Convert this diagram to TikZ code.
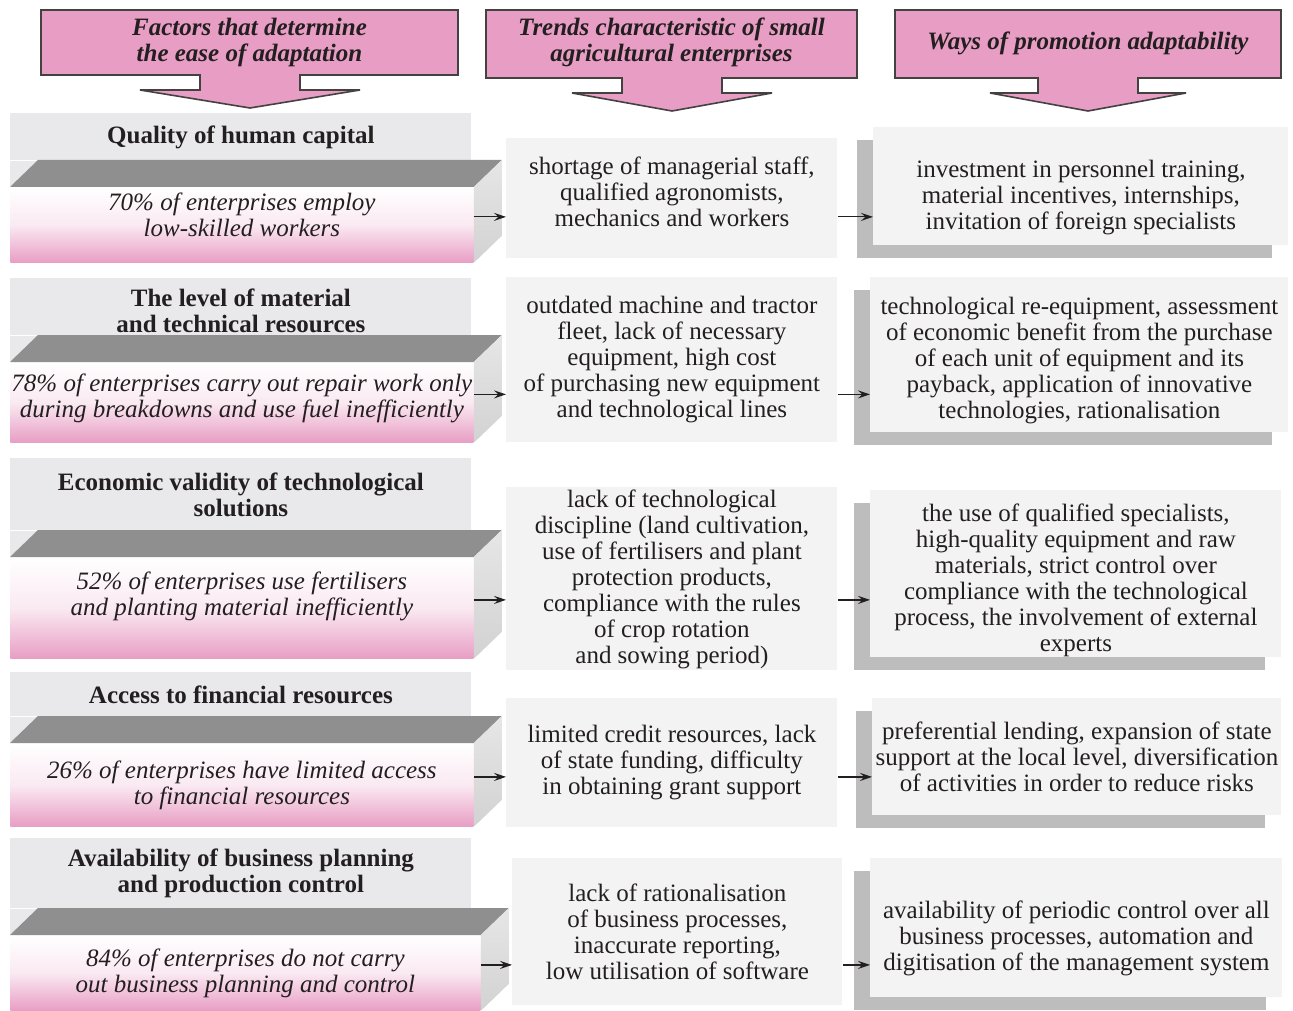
\documentclass[tikz,border=0pt]{standalone}
\usepackage{fontspec}
\setmainfont{Liberation Serif}
\usetikzlibrary{arrows.meta,shadows}

\definecolor{pinkc}{HTML}{E89EC4}
\definecolor{headgray}{HTML}{E9E9EB}
\definecolor{boxgray}{HTML}{F3F3F3}
\definecolor{shadowgray}{HTML}{BDBDBD}
\definecolor{topgray}{HTML}{8F8F8F}
\definecolor{sidegray}{HTML}{D2D2D2}
\definecolor{inkc}{HTML}{231F20}

\tikzset{
  every node/.style={font=\fontsize{12.5}{13}\selectfont, text=inkc},
  headarr/.style={fill=pinkc, draw=inkc!85, line width=0.8pt},
  headtxt/.style={font=\fontsize{12.5}{13}\selectfont\bfseries\itshape, align=center},
  factor/.style={fill=headgray, anchor=north west, inner sep=0pt, align=center,
    font=\fontsize{12.5}{13}\selectfont\bfseries, minimum width=230.5pt},
  front/.style={anchor=north west, inner sep=0pt, align=center,
    font=\fontsize{12.5}{13}\selectfont\itshape,
    top color=white, bottom color=pinkc, middle color=pinkc!22, minimum width=231.5pt},
  trend/.style={fill=boxgray, anchor=north west, inner sep=0pt, align=center, minimum width=165.5pt},
  way/.style={fill=boxgray, anchor=north west, inner sep=0pt, align=center,
    drop shadow={shadow xshift=-8pt, shadow yshift=-6.5pt, fill=shadowgray, opacity=1}},
  arr/.style={-{Stealth[length=6pt,width=4pt,inset=2.2pt]}, line width=0.6pt, draw=inkc},
}

\begin{document}
\begin{tikzpicture}[x=0.5pt, y=-0.5pt]
  \useasboundingbox (0,0) rectangle (1293,1010);

  % column headers
  \foreach \l/\r/\b/\c/\w in {41/458/75/250/110, 486/857/78/672/100, 895/1281/78/1088/98}
    \filldraw[headarr] (\l,10) -- (\r,10) -- (\r,\b) -- (\c+50,\b) -- (\c+50,\b+15) -- (\c+\w,\b+15)
      -- (\c,\b+33) -- (\c-\w,\b+15) -- (\c-50,\b+15) -- (\c-50,\b) -- (\l,\b) -- cycle;
  \node[headtxt] (hd1) at (249.5,42) {Factors that determine\\the ease of adaptation};
  \node[headtxt] (hd2) at (671.5,42) {Trends characteristic of small\\agricultural enterprises};
  \node[headtxt] (hd3) at (1088,43) {Ways of promotion adaptability};

  % factors
  \node[factor, minimum height=23.5pt] (h1) at (10,113) {Quality of human capital};
  \node[factor, minimum height=28.5pt, text height=25.5pt] (h2) at (10,278) {The level of material\\and technical resources};
  \node[factor, minimum height=36pt] (h3) at (10,458) {Economic validity of technological\\solutions};
  \node[factor, minimum height=22pt] (h4) at (10,672) {Access to financial resources};
  \node[factor, minimum height=35pt] (h5) at (10,838) {Availability of business planning\\and production control};

  \node[front, minimum height=37.5pt, text depth=10pt] (f1) at (10,187) {70\% of enterprises employ\\low-skilled workers};
  \node[front, minimum height=40pt, text depth=6.5pt] (f2) at (10,362) {78\% of enterprises carry out repair work only\\during breakdowns and use fuel inefficiently};
  \node[front, minimum height=50.5pt, text depth=14pt] (f3) at (10,557) {52\% of enterprises use fertilisers\\and planting material inefficiently};
  \node[front, minimum height=41.5pt] (f4) at (10,743) {26\% of enterprises have limited access\\to financial resources};
  \node[front, minimum height=37.5pt, minimum width=235pt] (f5) at (10,935) {84\% of enterprises do not carry\\out business planning and control};

  % box faces
  \foreach \i in {1,...,5} {
    \fill[headgray] (h\i.south west) rectangle ([xshift=14pt]f\i.north west);
    \fill[topgray] (f\i.north west) -- ++(28,-27) -- ([shift={(28,-27)}]f\i.north east) -- (f\i.north east) -- cycle;
    \shade[top color=sidegray!55, bottom color=sidegray] (f\i.north east) -- ([shift={(28,-27)}]f\i.north east)
      -- ([shift={(28,-27)}]f\i.south east) -- (f\i.south east) -- cycle;
  }

  % trends
  \node[trend, minimum height=60pt, text depth=7pt] (t1) at (506,138) {shortage of managerial staff,\\qualified agronomists,\\mechanics and workers};
  \node[trend, minimum height=82.5pt] (t2) at (506,277) {outdated machine and tractor\\fleet, lack of necessary\\equipment, high cost\\of purchasing new equipment\\and technological lines};
  \node[trend, minimum height=91.5pt] (t3) at (506,487) {lack of technological\\discipline (land cultivation,\\use of fertilisers and plant\\protection products,\\compliance with the rules\\of crop rotation\\and sowing period)};
  \node[trend, minimum height=64.5pt] (t4) at (506,698) {limited credit resources, lack\\of state funding, difficulty\\in obtaining grant support};
  \node[trend, minimum height=73.5pt, minimum width=165pt] (t5) at (512,858) {lack of rationalisation\\of business processes,\\inaccurate reporting,\\low utilisation of software};

  % ways
  \node[way, minimum width=207.5pt, minimum height=59pt, text height=46pt] (w1) at (873,127) {investment in personnel training,\\material incentives, internships,\\invitation of foreign specialists};
  \node[way, minimum width=209pt, minimum height=77.5pt, text height=66.5pt] (w2) at (870,277) {technological re-equipment, assessment\\of economic benefit from the purchase\\of each unit of equipment and its\\payback, application of innovative\\technologies, rationalisation};
  \node[way, minimum width=205.5pt, minimum height=83.5pt, text height=80.5pt] (w3) at (870,490) {the use of qualified specialists,\\high-quality equipment and raw\\materials, strict control over\\compliance with the technological\\process, the involvement of external\\experts};
  \node[way, minimum width=204.5pt, minimum height=58.5pt] (w4) at (872,698) {preferential lending, expansion of state\\support at the local level, diversification\\of activities in order to reduce risks};
  \node[way, minimum width=206pt, minimum height=69.5pt, text height=45pt] (w5) at (870,858) {availability of periodic control over all\\business processes, automation and\\digitisation of the management system};

  % connectors
  \foreach \i in {1,...,5} {
    \coordinate (a\i) at ([yshift=4pt]f\i.east);
    \draw[arr] (a\i) -- (a\i -| t\i.west);
    \draw[arr] (a\i -| t\i.east) -- (a\i -| w\i.west);
  }
\end{tikzpicture}
\end{document}
